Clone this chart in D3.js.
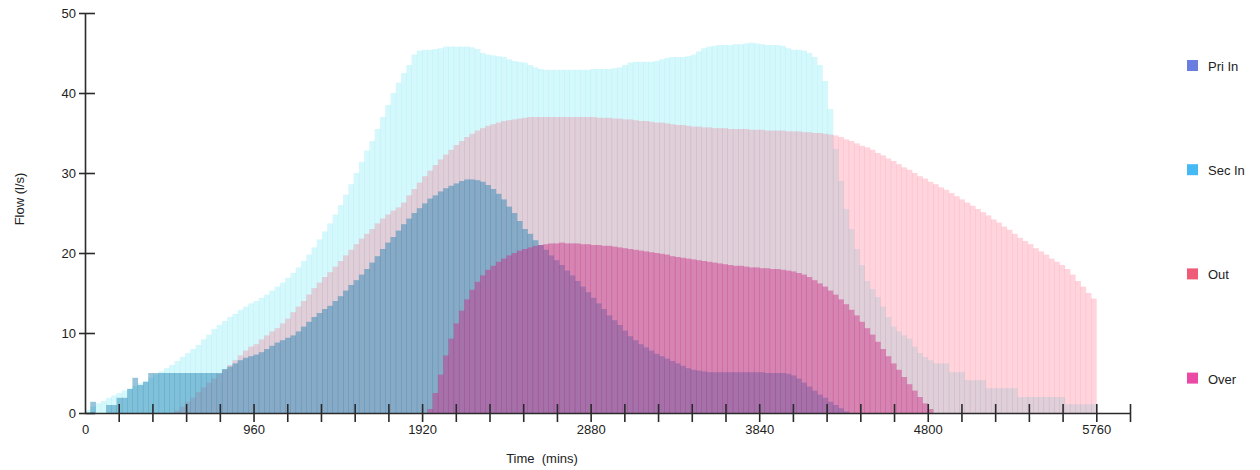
<!DOCTYPE html>
<html>
<head>
<meta charset="utf-8">
<script src="https://cdn.jsdelivr.net/npm/d3@7"></script>
<style>
  html, body { margin: 0; padding: 0; background: #fff; }
  svg text { font-family: "Liberation Sans", Arial, sans-serif; fill: #222; }
</style>
</head>
<body>
<svg id="chart" width="1260" height="470"></svg>
<script>
// Flow readings, one value per 30-minute interval (l/s)
const STEP = 30;
const times = d3.range(0, 5760, STEP);

const priIn = [
  0, 1.4, 0, 0, 1.0, 1.0, 1.9, 1.9, 3.0, 4.4, 3.5, 3.9,
  5.0, 5.0, 5.0, 5.0, 5.0, 5.0, 5.0, 5.0, 5.0, 5.0, 5.0, 5.0,
  5.0, 5.0, 5.5, 5.8, 6.2, 6.6, 6.9, 7.1, 7.3, 7.6, 8.0, 8.4,
  8.8, 9.1, 9.4, 9.7, 10.2, 10.8, 11.4, 12.0, 12.5, 13.0, 13.4, 14.0,
  14.6, 15.3, 16.0, 16.6, 17.3, 18.0, 18.8, 19.6, 20.5, 21.3, 22.0, 22.8,
  23.6, 24.3, 25.0, 25.6, 26.2, 26.8, 27.2, 27.7, 28.1, 28.4, 28.7, 29.0,
  29.2, 29.2, 29.1, 28.9, 28.5, 28.0, 27.4, 26.7, 25.8, 25.0, 24.0, 23.0,
  22.4, 21.6, 21.0, 20.4, 19.7, 19.1, 18.5, 17.8, 17.2, 16.5, 15.8, 15.1,
  14.4, 13.7, 13.0, 12.2, 11.6, 11.0, 10.3, 9.6, 9.1, 8.6, 8.2, 7.8,
  7.4, 7.1, 6.8, 6.5, 6.2, 5.9, 5.6, 5.4, 5.3, 5.2, 5.1, 5.1,
  5.1, 5.1, 5.1, 5.1, 5.1, 5.1, 5.1, 5.1, 5.1, 5.0, 5.0, 5.0,
  5.0, 4.9, 4.7, 4.3, 3.8, 3.3, 2.8, 2.3, 1.9, 1.4, 1.0, 0.6,
  0.2, 0, 0, 0, 0, 0, 0, 0, 0, 0, 0, 0,
  0, 0, 0, 0, 0, 0, 0, 0, 0, 0, 0, 0,
  0, 0, 0, 0, 0, 0, 0, 0, 0, 0, 0, 0,
  0, 0, 0, 0, 0, 0, 0, 0, 0, 0, 0, 0
];

const secIn = [
  0.4, 0.8, 1.2, 1.5, 1.9, 2.2, 2.5, 2.8, 3.1, 3.4, 3.7, 4.0,
  4.4, 4.8, 5.2, 5.6, 6.0, 6.5, 7.0, 7.5, 8.0, 8.5, 9.2, 9.8,
  10.5, 11.0, 11.5, 12.0, 12.4, 12.9, 13.3, 13.7, 14.0, 14.4, 14.8, 15.3,
  15.8, 16.3, 16.9, 17.5, 18.2, 19.0, 19.8, 20.7, 21.7, 22.7, 23.7, 24.8,
  26.0, 27.3, 28.6, 30.0, 31.4, 32.8, 34.0, 35.5, 37.0, 38.5, 40.0, 41.3,
  42.5, 43.5, 44.8, 45.3, 45.4, 45.4, 45.5, 45.6, 45.8, 45.8, 45.8, 45.8,
  45.8, 45.7, 45.5, 45.0, 44.8, 44.7, 44.6, 44.5, 44.2, 44.0, 43.9, 43.8,
  43.5, 43.2, 43.0, 42.9, 42.9, 42.9, 42.9, 42.9, 42.9, 42.9, 42.9, 42.9,
  43.0, 43.0, 43.0, 43.0, 43.1, 43.2, 43.5, 43.8, 43.9, 43.9, 43.9, 43.9,
  44.0, 44.2, 44.4, 44.5, 44.5, 44.5, 44.6, 44.8, 45.2, 45.6, 45.8, 45.9,
  46.0, 46.0, 46.0, 46.1, 46.1, 46.2, 46.3, 46.2, 46.1, 46.0, 46.0, 46.0,
  45.9, 45.6, 45.4, 45.4, 45.3, 45.0, 44.5, 43.5, 41.5, 38.0, 33.0, 29.0,
  25.5, 23.0, 20.5, 18.5, 16.5, 15.5, 14.5, 13.3, 12.0, 10.8, 10.2, 9.7,
  9.3, 8.3, 7.5, 7.0, 6.6, 6.2, 6.2, 6.2, 5.1, 5.1, 5.1, 4.1,
  4.1, 4.1, 4.1, 3.1, 3.1, 3.1, 3.1, 3.1, 3.1, 2.0, 2.0, 2.0,
  2.0, 2.0, 2.0, 2.0, 2.0, 2.0, 1.1, 1.1, 1.1, 1.1, 1.1, 1.1
];

const out = [
  0, 0, 0, 0, 0, 0, 0, 0, 0, 0, 0, 0,
  0, 0, 0, 0, 0, 0.3, 0.8, 1.4, 1.9, 2.6, 3.2, 3.8,
  4.3, 4.9, 5.4, 6.0, 6.6, 7.2, 7.8, 8.3, 8.6, 9.2, 9.7, 10.2,
  10.6, 11.2, 11.8, 12.6, 13.3, 14.0, 14.8, 15.6, 16.3, 17.0, 17.6, 18.3,
  19.0, 19.7, 20.4, 21.1, 21.8, 22.4, 23.0, 23.7, 24.3, 24.8, 25.3, 25.7,
  26.3, 27.2, 28.0, 28.8, 29.6, 30.3, 31.0, 31.7, 32.3, 32.9, 33.5, 34.0,
  34.5, 34.9, 35.3, 35.6, 35.9, 36.1, 36.3, 36.5, 36.6, 36.7, 36.8, 36.9,
  37.0, 37.0, 37.0, 37.0, 37.0, 37.0, 37.0, 37.0, 37.0, 37.0, 37.0, 37.0,
  37.0, 36.9, 36.9, 36.9, 36.8, 36.8, 36.7, 36.7, 36.6, 36.5, 36.5, 36.4,
  36.3, 36.3, 36.2, 36.1, 36.0, 36.0, 35.9, 35.8, 35.8, 35.7, 35.7, 35.6,
  35.6, 35.6, 35.5, 35.5, 35.5, 35.5, 35.4, 35.4, 35.4, 35.3, 35.3, 35.3,
  35.3, 35.2, 35.2, 35.2, 35.1, 35.1, 35.0, 35.0, 34.9, 34.8, 34.7, 34.5,
  34.2, 34.0, 33.7, 33.4, 33.2, 32.9, 32.5, 32.2, 31.8, 31.5, 31.1, 30.7,
  30.4, 30.0, 29.6, 29.3, 28.9, 28.6, 28.2, 27.9, 27.5, 27.1, 26.7, 26.3,
  25.9, 25.5, 25.1, 24.7, 24.2, 23.8, 23.3, 22.9, 22.4, 21.9, 21.5, 21.1,
  20.6, 20.2, 19.8, 19.3, 18.9, 18.5, 18.0, 17.3, 16.5, 15.8, 15.0, 14.3
];

const over = [
  0, 0, 0, 0, 0, 0, 0, 0, 0, 0, 0, 0,
  0, 0, 0, 0, 0, 0, 0, 0, 0, 0, 0, 0,
  0, 0, 0, 0, 0, 0, 0, 0, 0, 0, 0, 0,
  0, 0, 0, 0, 0, 0, 0, 0, 0, 0, 0, 0,
  0, 0, 0, 0, 0, 0, 0, 0, 0, 0, 0, 0,
  0, 0, 0, 0, 0, 0.5, 2.5, 4.8, 7.2, 9.3, 11.2, 12.8,
  14.2, 15.4, 16.4, 17.2, 17.9, 18.4, 18.9, 19.3, 19.7, 20.0, 20.3, 20.5,
  20.7, 20.9, 21.0, 21.1, 21.2, 21.2, 21.3, 21.2, 21.2, 21.2, 21.1, 21.1,
  21.0, 21.0, 20.9, 20.9, 20.8, 20.7, 20.6, 20.5, 20.4, 20.3, 20.2, 20.1,
  20.0, 19.9, 19.8, 19.6, 19.5, 19.4, 19.3, 19.2, 19.1, 19.0, 18.9, 18.8,
  18.7, 18.6, 18.5, 18.4, 18.4, 18.3, 18.2, 18.2, 18.1, 18.1, 18.0, 18.0,
  17.9, 17.8, 17.7, 17.5, 17.3, 17.0, 16.6, 16.2, 15.8, 15.3, 14.8, 14.2,
  13.6, 12.9, 12.2, 11.4, 10.6, 9.8, 8.9, 8.0, 7.1, 6.2, 5.4, 4.5,
  3.6, 2.8, 2.0, 1.2, 0.5, 0, 0, 0, 0, 0, 0, 0,
  0, 0, 0, 0, 0, 0, 0, 0, 0, 0, 0, 0,
  0, 0, 0, 0, 0, 0, 0, 0, 0, 0, 0, 0
];

const seriesNames = ["Pri In", "Sec In", "Out", "Over"];
const xTickStep = 192;
const xLabelEvery = 960;
const xMax = 5952;
const yTicks = [0, 10, 20, 30, 40, 50];

const svg = d3.select("#chart");
const x = d3.scaleLinear().domain([0, xMax]).range([85, 1130]);
const y = d3.scaleLinear().domain([0, 50]).range([413, 13]);

// Bar layers, back to front
const layers = [
  { name: "Sec In", values: secIn, fill: "#18dcec", opacity: 0.19 },
  { name: "Out",    values: out,   fill: "#ff5573", opacity: 0.25 },
  { name: "Pri In", values: priIn, fill: "#2884b4", opacity: 0.48 },
  { name: "Over",   values: over,  fill: "#cc2a86", opacity: 0.45 }
];

const plot = svg.append("g").attr("class", "bars");
layers.forEach(layer => {
  const pts = times.map((t, i) => ({ t, v: layer.values[i] })).filter(d => d.v > 0);
  plot.append("g")
    .selectAll("rect")
    .data(pts)
    .join("rect")
    .attr("x", d => x(d.t))
    .attr("width", d => x(d.t + STEP) - x(d.t) + 0.4)
    .attr("y", d => y(d.v))
    .attr("height", d => y(0) - y(d.v))
    .attr("fill", layer.fill)
    .attr("fill-opacity", layer.opacity);
});

// X axis: minor ticks every 192 min, labels every 960 min, ticks cross the line
const xAxis = d3.axisBottom(x)
  .tickValues(d3.range(0, xMax + 1, xTickStep))
  .tickSizeInner(9)
  .tickSizeOuter(0)
  .tickPadding(3)
  .tickFormat(d => (d % xLabelEvery === 0 ? d : ""));
const gx = svg.append("g").attr("transform", `translate(0,${y(0)})`).call(xAxis);
gx.selectAll(".tick line").attr("y1", -9).attr("y2", 9);
gx.selectAll(".tick").filter(d => d === 0).select("line").remove();

// Y axis
const yAxis = d3.axisLeft(y).tickValues(yTicks).tickSizeInner(6).tickSizeOuter(0).tickPadding(3);
const gy = svg.append("g").attr("transform", `translate(${x(0)},0)`).call(yAxis);
gy.selectAll(".tick line").attr("x1", 10).attr("x2", -6);

[gx, gy].forEach(g => {
  g.select(".domain").attr("stroke", "#2a2a2a").attr("stroke-width", 1.6);
  g.selectAll(".tick line").attr("stroke", "#2a2a2a").attr("stroke-width", 1.6);
  g.selectAll(".tick text").attr("font-size", 13).attr("fill", "#222")
    .attr("font-family", "\"Liberation Sans\", Arial, sans-serif");
});

// Axis titles
svg.append("text")
  .attr("x", 542).attr("y", 463)
  .attr("text-anchor", "middle")
  .attr("font-size", 13)
  .style("white-space", "pre")
  .text("Time  (mins)");

svg.append("text")
  .attr("transform", "translate(24,199) rotate(-90)")
  .attr("text-anchor", "middle")
  .attr("font-size", 13)
  .text("Flow (l/s)");

// Legend
const legendColors = ["#6a7ee0", "#45b9f3", "#ef5a76", "#ea4aa6"];
const legend = svg.append("g").attr("class", "legend");
const items = legend.selectAll("g")
  .data(seriesNames)
  .join("g")
  .attr("transform", (d, i) => `translate(1187,${60 + i * 104.2})`);
items.append("rect")
  .attr("width", 11).attr("height", 11)
  .attr("fill", (d, i) => legendColors[i]);
items.append("text")
  .attr("x", 21).attr("y", 11)
  .attr("font-size", 13)
  .text(d => d);
</script>
</body>
</html>
